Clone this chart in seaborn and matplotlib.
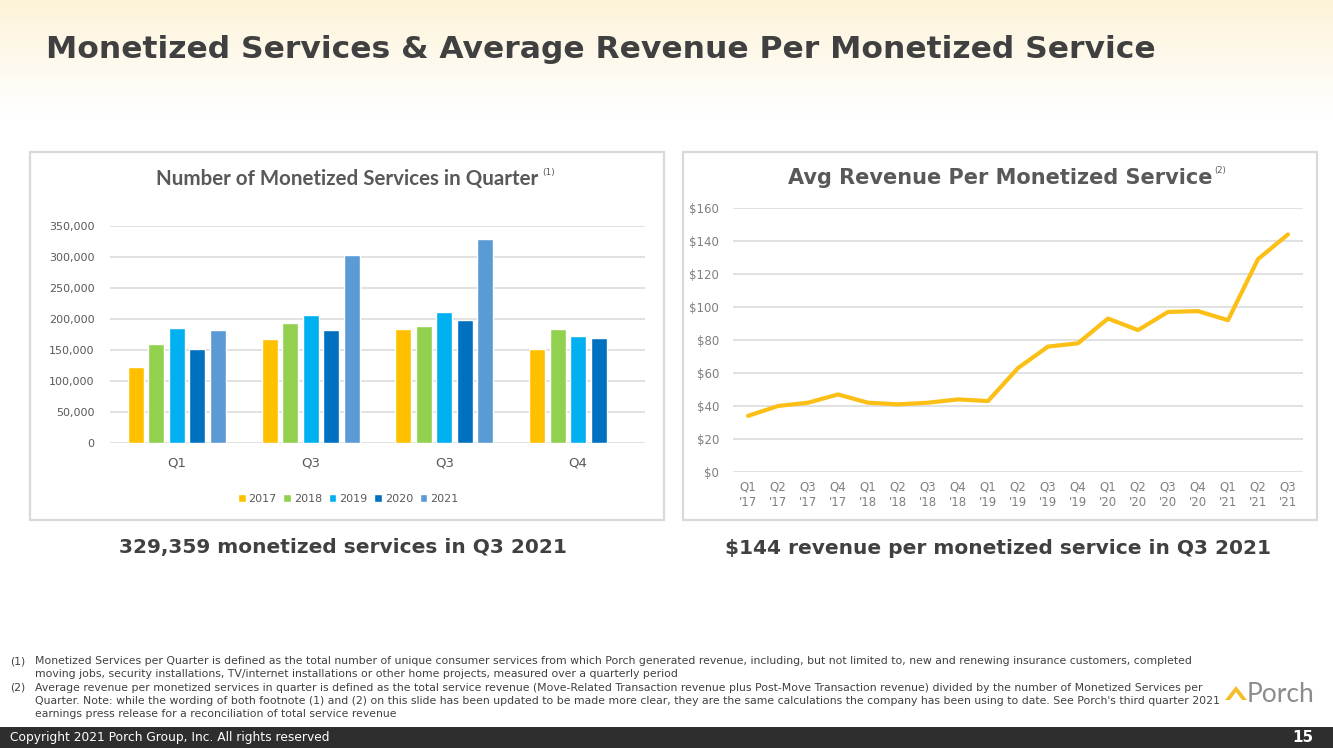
import numpy as np
import pandas as pd
import matplotlib
matplotlib.use("Agg")
import matplotlib.pyplot as plt
import seaborn as sns
from matplotlib.patches import Rectangle, Polygon

# ---- data ----
quarters = ["Q1", "Q2", "Q3", "Q4"]
quarter_labels = ["Q1", "Q3", "Q3", "Q4"]  # as printed on the slide
years = ["2017", "2018", "2019", "2020", "2021"]
services_2017 = [122000, 168000, 184000, 152000]
services_2018 = [160000, 193000, 189000, 184000]
services_2019 = [185000, 206000, 211000, 173000]
services_2020 = [152000, 182000, 198000, 170000]
services_2021 = [183000, 303000, 329359, np.nan]
year_colors = ["#FFC000", "#92D050", "#00B0F0", "#0070C0", "#5B9BD5"]

rev_labels = ["Q1\n'17", "Q2\n'17", "Q3\n'17", "Q4\n'17",
              "Q1\n'18", "Q2\n'18", "Q3\n'18", "Q4\n'18",
              "Q1\n'19", "Q2\n'19", "Q3\n'19", "Q4\n'19",
              "Q1\n'20", "Q2\n'20", "Q3\n'20", "Q4\n'20",
              "Q1\n'21", "Q2\n'21", "Q3\n'21"]
rev_values = [34, 40, 42, 47, 42, 41, 42, 44, 43, 63, 76, 78,
              93, 86, 97, 97.5, 92, 129, 144]

W, H = 1333, 748


def fx(px):
    return px / W


def fy(py):
    return 1 - py / H


def main():
    sns.set_theme(style="white")
    plt.rcParams["font.family"] = ["DejaVu Sans"]

    fig = plt.figure(figsize=(W / 100, H / 100), dpi=100)

    # header gradient
    bg = fig.add_axes([0, fy(115), 1, 115 / H], zorder=-10)
    grad = np.linspace(0, 1, 100).reshape(-1, 1)
    top = np.array([253, 243, 217]) / 255
    bot = np.array([255, 255, 255]) / 255
    img = top + (bot - top) * grad[..., None]
    bg.imshow(np.repeat(img, 2, axis=1), aspect="auto", extent=[0, 1, 0, 1])
    bg.axis("off")

    fig.text(fx(46), fy(50), "Monetized Services & Average Revenue Per Monetized Service",
             fontsize=22.6, fontweight="bold", color="#404040", va="center", ha="left")

    # panel frames
    for x0 in (30, 683):
        fig.patches.append(Rectangle((fx(x0), fy(520)), fx(634), 368 / H,
                                     transform=fig.transFigure, fill=False,
                                     edgecolor="#D9D9D9", linewidth=1.6))

    # ---- left: bar chart ----
    df = pd.DataFrame({
        "quarter": quarters * 5,
        "year": sum([[y] * 4 for y in years], []),
        "value": services_2017 + services_2018 + services_2019 + services_2020 + services_2021,
    })
    ax1 = fig.add_axes([fx(110), fy(443), fx(535), 217 / H])
    sns.barplot(data=df, x="quarter", y="value", hue="year", order=quarters,
                hue_order=years, palette=year_colors, width=0.765, gap=0.22,
                saturation=1, ax=ax1, legend=True)
    ax1.set_ylim(0, 350000)
    ax1.set_xlim(-0.5, 3.5)
    ax1.set_yticks(np.arange(0, 350001, 50000))
    ax1.set_yticklabels([f"{v:,}" for v in range(0, 350001, 50000)])
    ax1.set_xticks(range(4))
    ax1.set_xticklabels(quarter_labels)
    ax1.grid(axis="y", color="#D9D9D9", linewidth=1.1)
    ax1.set_axisbelow(True)
    for s in ax1.spines.values():
        s.set_visible(False)
    ax1.set_xlabel("")
    ax1.set_ylabel("")
    ax1.tick_params(axis="y", labelsize=8, colors="#595959", length=0, pad=11)
    ax1.tick_params(axis="x", labelsize=9.5, colors="#595959", length=0, pad=10)
    ax1.legend(loc="center", bbox_to_anchor=(0.445, -0.258), ncol=5, frameon=False,
               fontsize=8, handlelength=0.7, handleheight=0.7, handletextpad=0.25,
               columnspacing=0.6, labelcolor="#595959")

    fig.text(fx(347), fy(179), "Number of Monetized Services in Quarter",
             fontsize=14.8, fontweight="bold", color="#595959", ha="center", va="center",
             family=["Lato", "DejaVu Sans"])
    fig.text(fx(542), fy(172), "(1)", fontsize=6.5, color="#595959", ha="left", va="center")

    # ---- right: line chart ----
    ax2 = fig.add_axes([fx(733), fy(472), fx(570), 264 / H])
    line_df = pd.DataFrame({"idx": np.arange(len(rev_values)), "rev": rev_values})
    sns.lineplot(data=line_df, x="idx", y="rev", color="#FBBF16", linewidth=3, ax=ax2)
    ax2.set_ylim(0, 160)
    ax2.set_xlim(-0.5, len(rev_values) - 0.5)
    ax2.set_yticks(np.arange(0, 161, 20))
    ax2.set_yticklabels([f"${v}" for v in range(0, 161, 20)])
    ax2.set_xticks(range(len(rev_labels)))
    ax2.set_xticklabels(rev_labels)
    ax2.grid(axis="y", color="#D9D9D9", linewidth=1.1)
    ax2.set_axisbelow(True)
    for s in ax2.spines.values():
        s.set_visible(False)
    ax2.set_xlabel("")
    ax2.set_ylabel("")
    ax2.tick_params(axis="y", labelsize=8.5, colors="#7F7F7F", length=0, pad=10)
    ax2.tick_params(axis="x", labelsize=8.5, colors="#7F7F7F", length=0, pad=6)
    for t in ax2.get_xticklabels():
        t.set_linespacing(1.3)

    fig.text(fx(1000), fy(178), "Avg Revenue Per Monetized Service",
             fontsize=15, fontweight="bold", color="#595959", ha="center", va="center")
    fig.text(fx(1214), fy(171), "(2)", fontsize=6, color="#595959", ha="left", va="center")

    # subtitles
    fig.text(fx(343), fy(548), "329,359 monetized services in Q3 2021",
             fontsize=14.5, fontweight="bold", color="#404040", ha="center", va="center")
    fig.text(fx(998), fy(548), "$144 revenue per monetized service in Q3 2021",
             fontsize=14.5, fontweight="bold", color="#404040", ha="center", va="center")

    # footnotes
    notes = [
        (661, "(1)", "Monetized Services per Quarter is defined as the total number of unique consumer services from which Porch generated revenue, including, but not limited to, new and renewing insurance customers, completed"),
        (674, "", "moving jobs, security installations, TV/internet installations or other home projects, measured over a quarterly period"),
        (688, "(2)", "Average revenue per monetized services in quarter is defined as the total service revenue (Move-Related Transaction revenue plus Post-Move Transaction revenue) divided by the number of Monetized Services per"),
        (701, "", "Quarter. Note: while the wording of both footnote (1) and (2) on this slide has been updated to be made more clear, they are the same calculations the company has been using to date. See Porch's third quarter 2021"),
        (714, "", "earnings press release for a reconciliation of total service revenue"),
    ]
    for y, tag, txt in notes:
        if tag:
            fig.text(fx(10), fy(y), tag, fontsize=7.8, color="#404040", va="center")
        fig.text(fx(35), fy(y), txt, fontsize=7.8, color="#404040", va="center")

    # logo
    fig.patches.append(Polygon([[fx(1225), fy(700)], [fx(1236), fy(686)], [fx(1247), fy(700)],
                                [fx(1242), fy(700)], [fx(1236), fy(692)], [fx(1230), fy(700)]],
                               closed=True, transform=fig.transFigure,
                               facecolor="#F6BE2C", edgecolor="none"))
    fig.text(fx(1247), fy(695), "Porch", fontsize=19, color="#8C8C8C", va="center",
             ha="left", family=["Lato", "DejaVu Sans"])

    # footer bar
    fig.patches.append(Rectangle((0, 0), 1, 21 / H, transform=fig.transFigure,
                                 facecolor="#2E2E2E", edgecolor="none"))
    fig.text(fx(10), fy(738), "Copyright 2021 Porch Group, Inc. All rights reserved",
             fontsize=8.8, color="white", va="center")
    fig.text(fx(1313), fy(738), "15", fontsize=11, fontweight="bold", color="white",
             va="center", ha="right")

    fig.savefig("out.png", dpi=100)


if __name__ == "__main__":
    main()
